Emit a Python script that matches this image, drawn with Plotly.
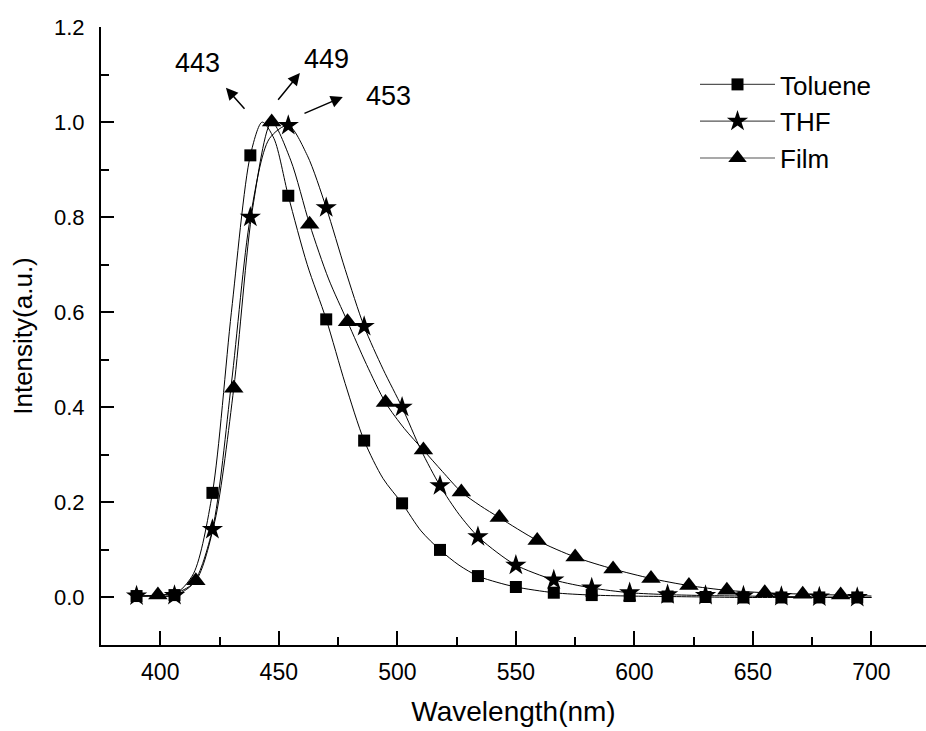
import plotly.graph_objects as go

# ---- data ----
# marker positions (every 16 nm)
tol_mx = [390, 406, 422, 438, 454, 470, 486, 502, 518, 534, 550, 566, 582, 598, 614, 630, 646, 662, 678, 694]
tol_my = [0.003, 0.005, 0.22, 0.93, 0.845, 0.585, 0.33, 0.198, 0.10, 0.045, 0.022, 0.010, 0.005, 0.003, 0.002, 0.001, 0.0, 0.0, 0.0, 0.0]

thf_mx = [390, 406, 422, 438, 454, 470, 486, 502, 518, 534, 550, 566, 582, 598, 614, 630, 646, 662, 678, 694]
thf_my = [0.003, 0.004, 0.143, 0.80, 0.993, 0.82, 0.57, 0.40, 0.235, 0.128, 0.068, 0.037, 0.020, 0.010, 0.006, 0.004, 0.003, 0.002, 0.001, 0.0]

film_mx = [399, 415, 431, 447, 463, 479, 495, 511, 527, 543, 559, 575, 591, 607, 623, 639, 655, 671, 687]
film_my = [0.005, 0.035, 0.44, 1.0, 0.785, 0.58, 0.41, 0.31, 0.222, 0.168, 0.12, 0.085, 0.06, 0.04, 0.025, 0.015, 0.01, 0.007, 0.005]

# continuous spectra
tol_lx = [390, 398, 406, 414, 422, 430, 438, 443, 448, 454, 462, 470, 478, 486, 494, 502, 510, 518, 526, 534, 542, 550, 566, 582, 598, 614, 630, 646, 662, 678, 700]
tol_ly = [0.003, 0.003, 0.006, 0.05, 0.22, 0.60, 0.93, 1.0, 0.965, 0.845, 0.70, 0.585, 0.45, 0.33, 0.25, 0.198, 0.14, 0.10, 0.068, 0.045, 0.032, 0.022, 0.010, 0.005, 0.003, 0.002, 0.001, 0.0, 0.0, 0.0, 0.0]

thf_lx = [390, 398, 406, 414, 422, 430, 438, 446, 454, 462, 470, 478, 486, 494, 502, 510, 518, 526, 534, 542, 550, 566, 582, 598, 614, 630, 646, 662, 678, 700]
thf_ly = [0.003, 0.003, 0.004, 0.03, 0.143, 0.45, 0.80, 0.965, 0.993, 0.93, 0.82, 0.69, 0.57, 0.48, 0.40, 0.31, 0.235, 0.175, 0.128, 0.095, 0.068, 0.037, 0.020, 0.010, 0.006, 0.004, 0.003, 0.002, 0.001, 0.0]

film_lx = [390, 399, 407, 415, 423, 431, 439, 447, 455, 463, 471, 479, 487, 495, 503, 511, 519, 527, 535, 543, 559, 575, 591, 607, 623, 639, 655, 671, 687, 700]
film_ly = [0.003, 0.005, 0.01, 0.035, 0.16, 0.44, 0.82, 1.0, 0.92, 0.785, 0.67, 0.58, 0.49, 0.41, 0.355, 0.31, 0.265, 0.222, 0.193, 0.168, 0.12, 0.085, 0.06, 0.04, 0.025, 0.015, 0.01, 0.007, 0.005, 0.003]

series_names = ["Toluene", "THF", "Film"]
symbols = ["square", "star", "triangle-up"]
sizes = [12, 16, 17]

# peak labels: text, text position, arrow tail, arrow head
peak_labels = ["443", "449", "453"]
label_pos = [(415.5, 1.124), (470.3, 1.133), (496.4, 1.055)]
arrow_tail = [(436.1, 1.025), (449.2, 1.044), (460.2, 1.017)]
arrow_head = [(427.7, 1.072), (458.9, 1.103), (477.0, 1.053)]

FONT = "Liberation Sans, Arial, sans-serif"

fig = go.Figure()
lines = [(tol_lx, tol_ly), (thf_lx, thf_ly), (film_lx, film_ly)]
marks = [(tol_mx, tol_my), (thf_mx, thf_my), (film_mx, film_my)]
for name, sym, sz, (lx, ly), (mx, my) in zip(series_names, symbols, sizes, lines, marks):
    fig.add_trace(go.Scatter(x=lx, y=ly, mode="lines", line=dict(color="black", width=1, shape="spline", smoothing=0.8),
                             showlegend=False, hoverinfo="skip", legendgroup=name))
    fig.add_trace(go.Scatter(x=mx, y=my, mode="markers", marker=dict(symbol=sym, size=sz, color="black"),
                             showlegend=False, legendgroup=name, name=name))
    fig.add_trace(go.Scatter(x=[None], y=[None], mode="lines+markers", name=name, legendgroup=name,
                             line=dict(color="#555555", width=1.2),
                             marker=dict(symbol=sym, size=sz, color="black")))

for txt, (tx, ty), (ax, ay), (hx, hy) in zip(peak_labels, label_pos, arrow_tail, arrow_head):
    fig.add_annotation(x=tx, y=ty, text=txt, showarrow=False, font=dict(family=FONT, size=27, color="black"))
    fig.add_annotation(x=hx, y=hy, ax=ax, ay=ay, axref="x", ayref="y", text="", showarrow=True,
                       arrowhead=2, arrowsize=1.6, arrowwidth=1.5, arrowcolor="black")

fig.update_layout(
    width=926, height=731,
    margin=dict(l=101, r=0, t=27, b=86, autoexpand=False),
    paper_bgcolor="white", plot_bgcolor="white",
    font=dict(family=FONT, color="black"),
    legend=dict(x=0.72, y=0.945, xanchor="left", yanchor="top", font=dict(size=26, family=FONT),
                bgcolor="rgba(0,0,0,0)", itemwidth=75, tracegroupgap=0),
    showlegend=True,
)
fig.update_xaxes(range=[375, 723], showline=True, linecolor="black", linewidth=2, mirror=False,
                 ticks="inside", ticklen=14, tickwidth=2, tickcolor="black",
                 tickvals=[400, 450, 500, 550, 600, 650, 700],
                 minor=dict(tickvals=[425, 475, 525, 575, 625, 675], ticks="inside", ticklen=8, tickwidth=2, tickcolor="black"),
                 showgrid=False, zeroline=False, tickfont=dict(size=23, family=FONT),
                 ticklabelstandoff=5,
                 title=dict(text="Wavelength(nm)", font=dict(size=28, family=FONT), standoff=18))
fig.update_yaxes(range=[-0.1, 1.2], showline=True, linecolor="black", linewidth=2, mirror=False,
                 ticks="inside", ticklen=13, tickwidth=2, tickcolor="black",
                 tickvals=[0.0, 0.2, 0.4, 0.6, 0.8, 1.0, 1.2], tickformat=".1f",
                 minor=dict(tickvals=[0.1, 0.3, 0.5, 0.7, 0.9, 1.1], ticks="inside", ticklen=8, tickwidth=2, tickcolor="black"),
                 showgrid=False, zeroline=False, tickfont=dict(size=22, family=FONT),
                 ticklabelstandoff=10,
                 title=dict(text="Intensity(a.u.)", font=dict(size=26, family=FONT), standoff=14))

fig.write_html("out.html")
